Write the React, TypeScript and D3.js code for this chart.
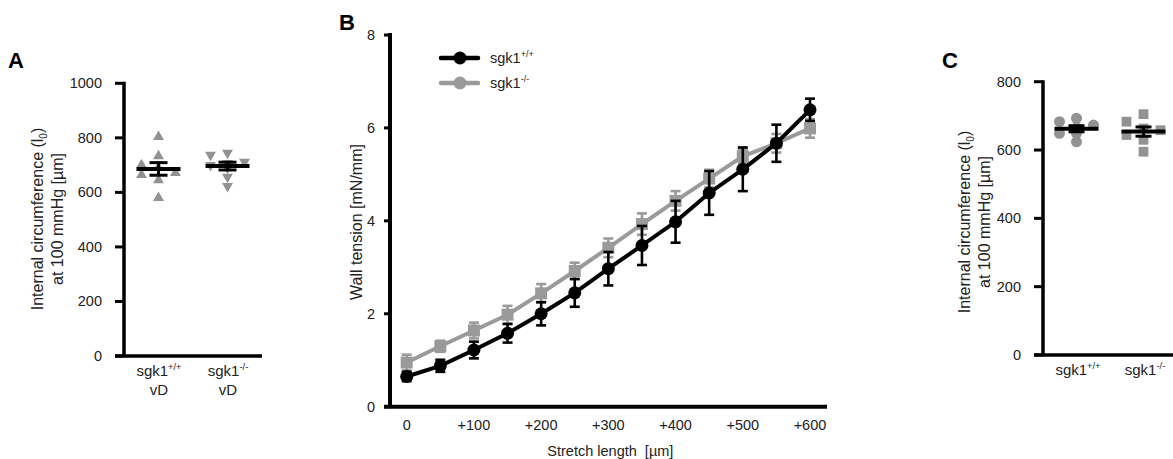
import React from "react";
import * as d3 from "d3";

const FONT = "'Liberation Sans', Arial, sans-serif";
const GREY = "#929292";
const GREY_LINE = "#9a9a9a";

// Panel A: internal circumference, sgk1+/+ vD vs sgk1-/- vD
const aGroups = ["wt", "ko"];
const aWT = [804, 733, 700, 690, 672, 664, 645, 580];
const aKO = [745, 737, 712, 707, 700, 690, 657, 623];
const aTicks = [0, 200, 400, 600, 800, 1000];

// Panel B: wall tension vs stretch length
const bStretch = [0, 50, 100, 150, 200, 250, 300, 350, 400, 450, 500, 550, 600];
const bWTMean = [0.65, 0.88, 1.22, 1.58, 2.0, 2.45, 2.97, 3.47, 3.98, 4.6, 5.11, 5.67, 6.39];
const bWTSem = [0.1, 0.13, 0.18, 0.2, 0.25, 0.3, 0.36, 0.42, 0.45, 0.47, 0.47, 0.4, 0.24];
const bKOMean = [0.95, 1.3, 1.64, 1.98, 2.44, 2.92, 3.42, 3.93, 4.43, 4.91, 5.39, 5.67, 5.99];
const bKOSem = [0.17, 0.12, 0.17, 0.19, 0.2, 0.18, 0.2, 0.23, 0.21, 0.19, 0.15, 0.2, 0.2];
const bYTicks = [0, 2, 4, 6, 8];
const bXTicks = [0, 100, 200, 300, 400, 500, 600];

// Panel C: internal circumference, sgk1+/+ vs sgk1-/-
const cGroups = ["wt", "ko"];
const cWT = [693, 683, 673, 665, 649, 649, 624];
const cKO = [705, 683, 663, 658, 644, 630, 595];
const cTicks = [0, 200, 400, 600, 800];

const sem = (v: number[]) => (d3.deviation(v) as number) / Math.sqrt(v.length);

// spread points sideways so they don't sit on top of each other
function dodge(values: number[], y: (v: number) => number, step: number, w: number, h: number) {
  const order = values.map((_, i) => i).sort((a, b) => values[b] - values[a]);
  const placed: { x: number; y: number }[] = [];
  const out: number[] = new Array(values.length).fill(0);
  const ks = [0, -1, 1, -2, 2, -3, 3];
  for (const i of order) {
    const py = y(values[i]);
    for (const k of ks) {
      const px = k * step;
      if (!placed.some((p) => Math.abs(p.x - px) < w && Math.abs(p.y - py) < h)) {
        placed.push({ x: px, y: py });
        out[i] = px;
        break;
      }
    }
  }
  return out;
}

const Geno = ({ x, y, sup, size = 15 }: { x: number; y: number; sup: string; size?: number }) => (
  <text x={x} y={y} textAnchor="middle" fontSize={size} fontFamily={FONT} fill="#222">
    sgk1
    <tspan dy={-6} fontSize={size * 0.62}>{sup}</tspan>
  </text>
);

const YTitle = ({ x, y }: { x: number; y: number }) => (
  <g transform={`translate(${x},${y}) rotate(-90)`} fontFamily={FONT} fontSize={16} fill="#222">
    <text x={0} y={0} textAnchor="middle">
      Internal circumference (l
      <tspan dy={4} fontSize={10}>0</tspan>
      <tspan dy={-4}>)</tspan>
    </text>
    <text x={0} y={20} textAnchor="middle">at 100 mmHg [µm]</text>
  </g>
);

type DotProps = {
  groups: string[];
  series: number[][];
  symbols: d3.SymbolType[];
  rotate: number[];
  symSize: number;
  ticks: number[];
  axisX: number;
  xEnd: number;
  y0: number;
  y1: number;
  yMax: number;
  capW: number;
};

const DotPanel = ({ groups, series, symbols, rotate, symSize, ticks, axisX, xEnd, y0, y1, yMax, capW }: DotProps) => {
  const y = d3.scaleLinear().domain([0, yMax]).range([y0, y1]);
  const x = d3.scalePoint<string>().domain(groups).range([axisX, xEnd]).padding(0.5);
  return (
    <g>
      {series.map((vals, gi) => {
        const cx = x(groups[gi]) as number;
        const offs = dodge(vals, y, 8.5, 9.5, 9);
        const path = d3.symbol().type(symbols[gi]).size(symSize)() as string;
        const m = d3.mean(vals) as number;
        const s = sem(vals);
        return (
          <g key={gi}>
            {vals.map((v, i) => (
              <path key={i} d={path} fill={GREY} transform={`translate(${cx + offs[i]},${y(v)}) rotate(${rotate[gi]})`} />
            ))}
            <line x1={cx} x2={cx} y1={y(m + s)} y2={y(m - s)} stroke="#000" strokeWidth={3} />
            <line x1={cx - capW / 2} x2={cx + capW / 2} y1={y(m + s)} y2={y(m + s)} stroke="#000" strokeWidth={3} />
            <line x1={cx - capW / 2} x2={cx + capW / 2} y1={y(m - s)} y2={y(m - s)} stroke="#000" strokeWidth={3} />
            <line x1={cx - 22} x2={cx + 22} y1={y(m)} y2={y(m)} stroke="#000" strokeWidth={4} />
          </g>
        );
      })}
      {/* axes */}
      <line x1={axisX} x2={axisX} y1={y1 - 1.5} y2={y0} stroke="#000" strokeWidth={3.5} />
      <line x1={axisX - 9} x2={xEnd} y1={y0} y2={y0} stroke="#000" strokeWidth={3.5} />
      {ticks.map((t) => (
        <g key={t}>
          <line x1={axisX - 9} x2={axisX} y1={y(t)} y2={y(t)} stroke="#000" strokeWidth={3} />
          <text x={axisX - 22} y={y(t) + 5} textAnchor="end" fontSize={14.5} fontFamily={FONT} fill="#222">
            {t}
          </text>
        </g>
      ))}
    </g>
  );
};

const LinePanel = () => {
  const x = d3.scaleLinear().domain([0, 600]).range([406.7, 810]);
  const y = d3.scaleLinear().domain([0, 8]).range([406.7, 35]);
  const ko = bStretch.map((s, i) => ({ s, m: bKOMean[i], e: bKOSem[i] }));
  const wt = bStretch.map((s, i) => ({ s, m: bWTMean[i], e: bWTSem[i] }));
  const line = d3
    .line<{ s: number; m: number }>()
    .x((d) => x(d.s))
    .y((d) => y(d.m));
  const bars = (data: typeof ko, color: string) =>
    data.map((d, i) => (
      <g key={i} stroke={color} strokeWidth={2.6}>
        <line x1={x(d.s)} x2={x(d.s)} y1={y(d.m + d.e)} y2={y(d.m - d.e)} />
        <line x1={x(d.s) - 5} x2={x(d.s) + 5} y1={y(d.m + d.e)} y2={y(d.m + d.e)} />
        <line x1={x(d.s) - 5} x2={x(d.s) + 5} y1={y(d.m - d.e)} y2={y(d.m - d.e)} />
      </g>
    ));
  const x0 = x.range()[0];
  const xr = x.range()[1];
  return (
    <g fontFamily={FONT} fill="#222">
      {/* sgk1-/- */}
      {bars(ko, GREY_LINE)}
      <path d={line(ko) as string} fill="none" stroke={GREY_LINE} strokeWidth={4} />
      {ko.map((d, i) => (
        <rect key={i} x={x(d.s) - 6} y={y(d.m) - 6} width={12} height={12} fill={GREY_LINE} />
      ))}
      {/* sgk1+/+ */}
      {bars(wt, "#000")}
      <path d={line(wt) as string} fill="none" stroke="#000" strokeWidth={4} />
      {wt.map((d, i) => (
        <circle key={i} cx={x(d.s)} cy={y(d.m)} r={6.5} fill="#000" />
      ))}
      {/* axes */}
      <line x1={390} x2={390} y1={y(8) - 2} y2={y(0)} stroke="#000" strokeWidth={4} />
      <line x1={384} x2={xr + 17} y1={y(0)} y2={y(0)} stroke="#000" strokeWidth={4} />
      {bYTicks.map((t) => (
        <g key={t}>
          <line x1={384} x2={390} y1={y(t)} y2={y(t)} stroke="#000" strokeWidth={3} />
          <text x={375} y={y(t) + 5} textAnchor="end" fontSize={14.5}>
            {t}
          </text>
        </g>
      ))}
      {bXTicks.map((t) => (
        <text key={t} x={x(t)} y={430} textAnchor="middle" fontSize={14.5}>
          {t === 0 ? "0" : `+${t}`}
        </text>
      ))}
      <text x={(x0 + xr) / 2 + 2} y={456} textAnchor="middle" fontSize={14.5} style={{ whiteSpace: "pre" }}>
        Stretch length  [µm]
      </text>
      <text transform={`translate(362,222) rotate(-90)`} textAnchor="middle" fontSize={16}>
        Wall tension [mN/mm]
      </text>
      {/* legend */}
      <line x1={441} x2={478} y1={58} y2={58} stroke="#000" strokeWidth={4.5} strokeLinecap="round" />
      <circle cx={460} cy={58} r={6.5} fill="#000" />
      <text x={490} y={63} fontSize={14.5}>
        sgk1<tspan dy={-6} fontSize={9}>+/+</tspan>
      </text>
      <line x1={441} x2={478} y1={83} y2={83} stroke={GREY_LINE} strokeWidth={4.5} strokeLinecap="round" />
      <circle cx={460} cy={83} r={6.5} fill={GREY_LINE} />
      <text x={490} y={88} fontSize={14.5}>
        sgk1<tspan dy={-6} fontSize={9}>-/-</tspan>
      </text>
    </g>
  );
};

export default function App() {
  return (
    <svg
      width={1173}
      height={459}
      style={{ position: "absolute", left: 0, top: 0, background: "#fff", display: "block" }}
    >
      <rect width={1173} height={459} fill="#fff" />
      {/* A */}
      <text x={8} y={68} fontSize={22} fontWeight="bold" fontFamily={FONT}>A</text>
      <YTitle x={43} y={219} />
      <DotPanel
        groups={aGroups}
        series={[aWT, aKO]}
        symbols={[d3.symbolTriangle, d3.symbolTriangle]}
        rotate={[0, 180]}
        symSize={52}
        ticks={aTicks}
        axisX={124}
        xEnd={262}
        y0={356}
        y1={83.3}
        yMax={1000}
        capW={18}
      />
      <Geno x={159} y={376} sup="+/+" />
      <text x={159} y={395} textAnchor="middle" fontSize={15} fontFamily={FONT} fill="#222">vD</text>
      <Geno x={228} y={376} sup="-/-" />
      <text x={228} y={395} textAnchor="middle" fontSize={15} fontFamily={FONT} fill="#222">vD</text>

      {/* B */}
      <text x={339} y={30} fontSize={22} fontWeight="bold" fontFamily={FONT}>B</text>
      <LinePanel />

      {/* C */}
      <text x={942} y={68} fontSize={22} fontWeight="bold" fontFamily={FONT}>C</text>
      <YTitle x={970} y={222} />
      <DotPanel
        groups={cGroups}
        series={[cWT, cKO]}
        symbols={[d3.symbolCircle, d3.symbolSquare]}
        rotate={[0, 0]}
        symSize={95}
        ticks={cTicks}
        axisX={1043}
        xEnd={1177}
        y0={355}
        y1={81.7}
        yMax={800}
        capW={16}
      />
      <Geno x={1078} y={375} sup="+/+" />
      <Geno x={1145} y={375} sup="-/-" />
    </svg>
  );
}
